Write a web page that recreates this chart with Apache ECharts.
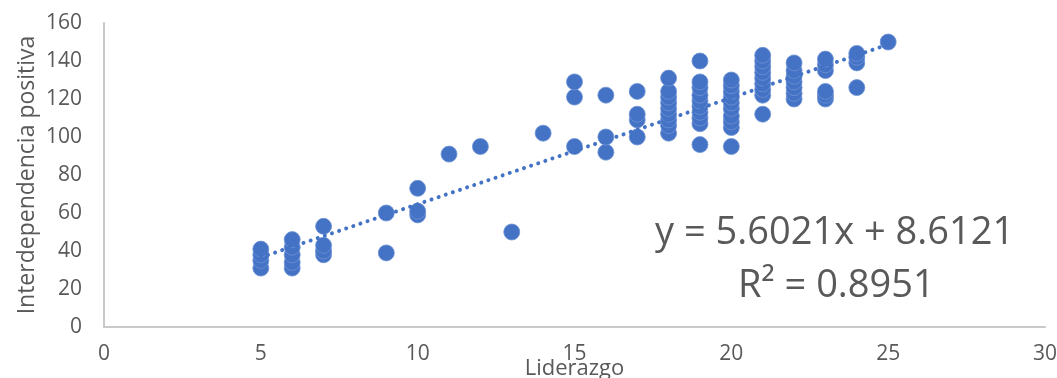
<!DOCTYPE html>
<html>
<head>
<meta charset="utf-8">
<script src="https://cdn.jsdelivr.net/npm/echarts@6/dist/echarts.min.js"></script>
<style>
html,body{margin:0;padding:0;background:#fff;}
#chart{width:1057px;height:378px;}
</style>
</head>
<body>
<div id="chart"></div>
<script>
// Data
const liderazgo = [
  5,5,5,5,
  6,6,6,6,6,
  7,7,7,7,
  9,9,
  10,10,10,
  11,12,13,14,
  15,15,15,
  16,16,16,
  17,17,17,17,
  18,18,18,18,18,18,18,18,18,
  19,19,19,19,19,19,19,19,19,19,
  20,20,20,20,20,20,20,20,20,20,
  21,21,21,21,21,21,21,21,21,
  22,22,22,22,22,22,22,
  23,23,23,23,23,23,
  24,24,24,24,
  25
];
const interdependencia = [
  31,35,38,41,
  31,34,38,42,46,
  38,40,43,53,
  39,60,
  59,61,73,
  91,95,50,102,
  95,121,129,
  92,100,122,
  100,109,112,124,
  102,106,109,112,115,118,121,124,131,
  96,107,110,113,116,119,122,126,129,140,
  95,105,108,111,115,118,121,124,127,130,
  112,122,125,128,131,134,137,140,143,
  120,123,126,129,132,135,139,
  120,122,124,135,138,141,
  126,139,142,144,
  150
];
const trendSlope = 5.6021;
const trendIntercept = 8.6121;
const rSquared = 0.8951;
const xTicks = [0, 5, 10, 15, 20, 25, 30];
const yTicks = [0, 20, 40, 60, 80, 100, 120, 140, 160];

const points = liderazgo.map((x, i) => [x, interdependencia[i]]);
const xMin = Math.min(...liderazgo), xMax = Math.max(...liderazgo);
const trend = [xMin, xMax].map(x => [x, trendSlope * x + trendIntercept]);

const FONT = 'Open Sans';
const TXT = '#595959';
const BLUE = '#4472C4';

const chart = echarts.init(document.getElementById('chart'), null, {renderer: 'canvas'});
chart.setOption({
  animation: false,
  backgroundColor: '#ffffff',
  grid: {left: 104, right: 12, top: 23, bottom: 51, containLabel: false, outerBoundsMode: 'none'},
  xAxis: {
    type: 'value', min: xTicks[0], max: xTicks[xTicks.length - 1], interval: 5,
    name: 'Liderazgo', nameLocation: 'middle', nameGap: 31, nameMoveOverlap: false,
    nameTextStyle: {fontFamily: FONT, fontSize: 22, color: TXT},
    axisLine: {show: true, lineStyle: {color: '#C9C9C9', width: 2}},
    axisTick: {show: false},
    splitLine: {show: false},
    axisLabel: {fontFamily: FONT, fontSize: 21, color: TXT, margin: 17}
  },
  yAxis: {
    type: 'value', min: yTicks[0], max: yTicks[yTicks.length - 1], interval: 20,
    name: 'Interdependencia positiva', nameLocation: 'middle', nameGap: 65, nameMoveOverlap: false,
    nameTextStyle: {fontFamily: FONT, fontSize: 23, color: TXT},
    axisLine: {show: true, lineStyle: {color: '#C9C9C9', width: 2}},
    axisTick: {show: false},
    splitLine: {show: false},
    axisLabel: {fontFamily: FONT, fontSize: 21, color: TXT, margin: 22}
  },
  series: [
    {
      type: 'scatter', data: points, symbol: 'circle', symbolSize: 16,
      itemStyle: {color: BLUE, opacity: 1, borderColor: '#6f93d6', borderWidth: 0.8}, z: 2
    },
    {
      type: 'line', data: trend, symbol: 'none', z: 3,
      lineStyle: {color: BLUE, width: 4, type: [0.01, 7.5], cap: 'round'}
    }
  ],
  graphic: [
    {type: 'text', left: 655, top: 214, style: {text: 'y = ' + trendSlope + 'x + ' + trendIntercept, font: '38px "Open Sans"', fill: TXT}},
    {type: 'text', left: 738, top: 267, style: {text: 'R² = ' + rSquared, font: '38px "Open Sans"', fill: TXT}}
  ]
});
</script>
</body>
</html>
